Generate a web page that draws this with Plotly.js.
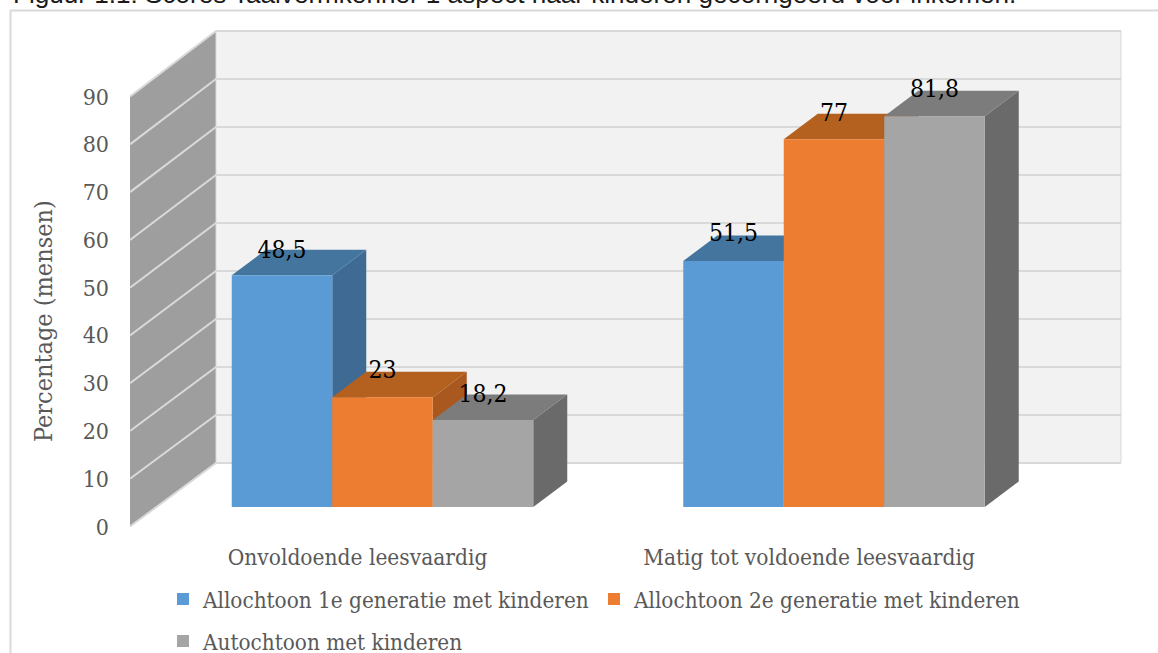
<!DOCTYPE html>
<html>
<head>
<meta charset="utf-8">
<script src="https://cdn.plot.ly/plotly-3.0.1.min.js"></script>
<style>html,body{margin:0;padding:0;background:#fff;overflow:hidden}#chart{width:1158px;height:653px}</style>
</head>
<body>
<div id="chart"></div>
<script>
// ---- data ----
const categories = ["Onvoldoende leesvaardig", "Matig tot voldoende leesvaardig"];
const seriesNames = ["Allochtoon 1e generatie met kinderen", "Allochtoon 2e generatie met kinderen", "Autochtoon met kinderen"];
const allochtoon1e = [48.5, 51.5];
const allochtoon2e = [23, 77];
const autochtoon = [18.2, 81.8];
const yTicks = [0, 10, 20, 30, 40, 50, 60, 70, 80, 90];
const chartTitle = "Figuur 1.1: Scores Taalvermkenner 1 aspect naar kinderen gecorrigeerd voor inkomen.";
const yTitle = "Percentage (mensen)";

// ---- colours ----
const frontColors = ["#5b9bd5", "#ed7d31", "#a5a5a5"];
const topColors = ["#44759f", "#b4601f", "#7c7c7c"];
const sideColors = ["#3f6a94", "#a9581f", "#6a6a6a"];
const serifFont = "'DejaVu Serif Condensed', 'Liberation Serif', serif";
const textGrey = "#595959";

// ---- layout geometry of the fake 3D box ----
const W = 1158, H = 653, plotLeft = 130, plotBottom = 532;
const zeroY = 526.5, unitPx = 4.777;           // front plane of the value axis
const floorLift = (zeroY - 507) / unitPx;      // bars stand forward on the floor
const groupCenters = [382.5, 834];
const barWidth = 100.5;
const floorShiftX = 25;
const barDepthX = 34, barDepthV = 25.5 / unitPx;
const wallDepthX = 86, wallDepthV = 63.5 / unitPx, wallGrow = 0.005;
const wallRight = 1121;
const labelLift = [[23, 26], [25, 24], [24, 25]];

const seriesValues = [allochtoon1e, allochtoon2e, autochtoon];
const backV = v => v * (1 + wallGrow) + wallDepthV;
const maxV = yTicks[yTicks.length - 1];
const pxX = p => (p - plotLeft) / (W - plotLeft);
const pxY = p => (plotBottom - p) / plotBottom;

const traces = [];
const polygon = (x, y, color, z, line) => ({
  type: "scatter", mode: "lines", x, y, fill: "toself", fillcolor: color,
  line: line || {width: 0, color: color}, hoverinfo: "skip", showlegend: false, zorder: z
});

// walls
const backLeft = plotLeft + wallDepthX;
traces.push(polygon([plotLeft, backLeft, backLeft, plotLeft, plotLeft],
  [0, backV(0), backV(maxV), maxV, 0], "#9e9e9e", 0));
traces.push(polygon([backLeft, wallRight, wallRight, backLeft, backLeft],
  [backV(0), backV(0), backV(maxV), backV(maxV), backV(0)], "#f2f2f2", 0, {width: 1, color: "#d9d9d9"}));

// gridlines on both walls
const gx = [], gy = [];
yTicks.forEach(v => {
  gx.push(plotLeft, backLeft, wallRight, null);
  gy.push(v, backV(v), backV(v), null);
});
traces.push({type: "scatter", mode: "lines", x: gx, y: gy, line: {color: "#d9d9d9", width: 2},
  hoverinfo: "skip", showlegend: false, zorder: 1});

// bars, painted back to front, series by series
seriesValues.forEach((vals, s) => {
  const xs = groupCenters.map(c => c + (s - 1) * barWidth);
  vals.forEach((v, g) => {
    const l = xs[g] - barWidth / 2, r = xs[g] + barWidth / 2, t = v + floorLift;
    traces.push(polygon([r, r + barDepthX, r + barDepthX, r, r],
      [floorLift, floorLift + barDepthV, t + barDepthV, t, floorLift], sideColors[s], 2 + 2 * s));
    traces.push(polygon([l, r, r + barDepthX, l + barDepthX, l],
      [t, t, t + barDepthV, t + barDepthV, t], topColors[s], 2 + 2 * s));
  });
  traces.push({
    type: "bar", name: seriesNames[s], x: xs, y: vals, base: floorLift, width: barWidth,
    marker: {color: frontColors[s], line: {width: 0}}, zorder: 3 + 2 * s,
    legend: s < 2 ? "legend" : "legend2",
    hovertemplate: "%{y}<extra>" + seriesNames[s] + "</extra>"
  });
});

// data labels
seriesValues.forEach((vals, s) => {
  const xs = groupCenters.map(c => c + (s - 1) * barWidth);
  traces.push({
    type: "scatter", mode: "text", x: xs,
    y: vals.map((v, g) => v + floorLift + labelLift[s][g] / unitPx),
    text: vals.map(v => String(v).replace(".", ",")),
    textposition: "middle center",
    textfont: {family: serifFont, size: 24.5, color: "#000"},
    hoverinfo: "skip", showlegend: false, zorder: 20
  });
});

const legendBase = {
  orientation: "h", xanchor: "left", yanchor: "middle", bgcolor: "rgba(0,0,0,0)",
  font: {family: serifFont, size: 22.3, color: textGrey},
  entrywidthmode: "pixels", entrywidth: 386, traceorder: "normal",
  itemclick: false, itemdoubleclick: false, borderwidth: 0
};

const layout = {
  width: W, height: H,
  margin: {l: plotLeft, r: 0, t: 0, b: H - plotBottom, pad: 0, autoexpand: false},
  paper_bgcolor: "#fff", plot_bgcolor: "rgba(0,0,0,0)",
  barmode: "overlay",
  title: {text: chartTitle, x: 13 / W, xanchor: "left", xref: "container",
          y: 1 - 3 / H, yanchor: "bottom", yref: "container",
          font: {family: "'Liberation Sans', Arial, sans-serif", size: 26.1, color: "#1a1a1a"}},
  xaxis: {
    range: [plotLeft, W], fixedrange: true, showgrid: false, zeroline: false, showline: false, ticks: "",
    tickmode: "array", tickvals: groupCenters.map(c => c - floorShiftX), ticktext: categories,
    ticklabelstandoff: 9, tickfont: {family: serifFont, size: 22.5, color: textGrey}
  },
  yaxis: {
    range: [(zeroY - plotBottom) / unitPx, zeroY / unitPx], fixedrange: true,
    showgrid: false, zeroline: false, showline: false, ticks: "",
    tickmode: "array", tickvals: yTicks, ticktext: yTicks.map(String),
    ticklabelstandoff: 20, tickfont: {family: serifFont, size: 23, color: textGrey}
  },
  legend: Object.assign({}, legendBase, {x: pxX(163), y: pxY(599)}),
  legend2: Object.assign({}, legendBase, {x: pxX(163), y: pxY(641)}),
  annotations: [{
    text: yTitle, textangle: -90, xref: "paper", yref: "paper", x: pxX(44), y: pxY(321),
    xanchor: "center", yanchor: "middle", showarrow: false,
    font: {family: serifFont, size: 25, color: textGrey}
  }],
  shapes: [
    {type: "line", xref: "paper", yref: "paper", x0: pxX(10), x1: pxX(W), y0: pxY(10.5), y1: pxY(10.5),
     line: {color: "#d9d9d9", width: 2}, layer: "below"},
    {type: "line", xref: "paper", yref: "paper", x0: pxX(10.5), x1: pxX(10.5), y0: pxY(10), y1: pxY(H),
     line: {color: "#d9d9d9", width: 2}, layer: "below"}
  ],
  showlegend: true
};

Plotly.newPlot("chart", traces, layout, {displayModeBar: false, responsive: false});
</script>
</body>
</html>
